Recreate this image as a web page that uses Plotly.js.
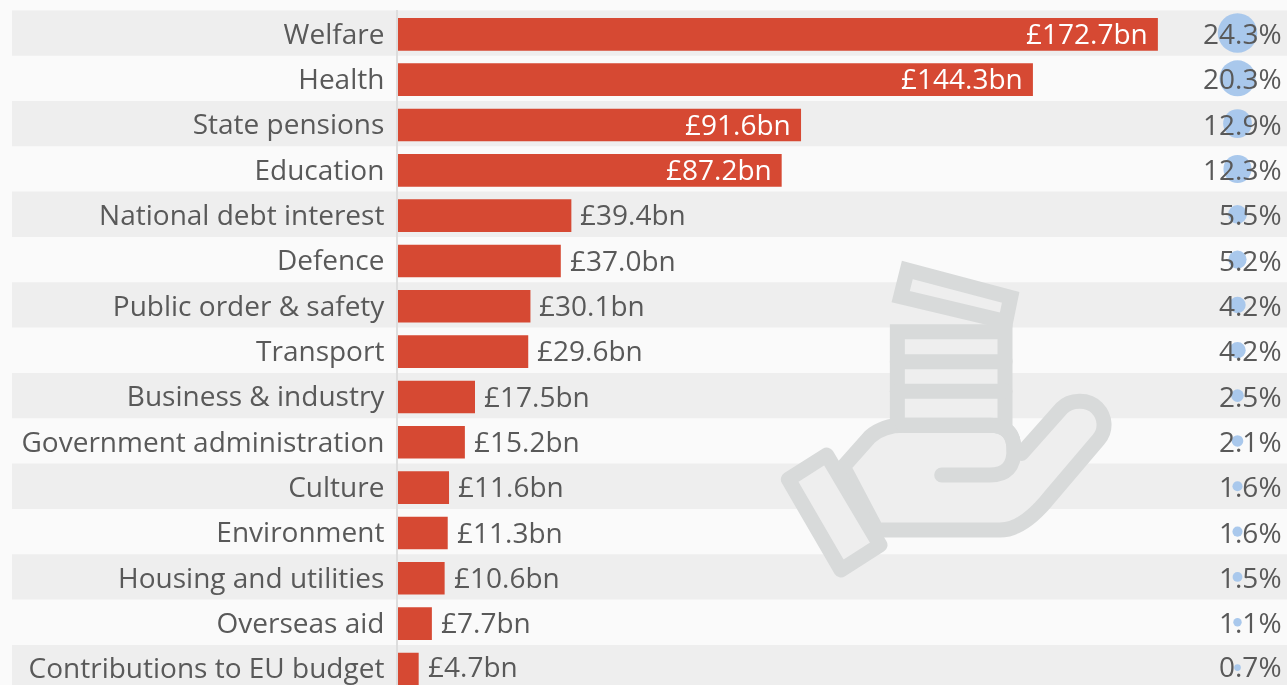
<!DOCTYPE html>
<html>
<head>
<meta charset="utf-8">
<script src="https://cdn.plot.ly/plotly-3.0.1.min.js"></script>
<style>
html,body{margin:0;padding:0;background:#fafafa;overflow:hidden}
#chart{width:1287px;height:685px;filter:blur(0.6px)}
.shapelayer path{stroke-linecap:round}
.shapelayer > g:nth-child(2) path,.shapelayer > g:nth-child(6) path,.shapelayer > g:nth-child(7) path,
.shapelayer > g:nth-child(10) path,.shapelayer > g:nth-child(14) path,.shapelayer > g:nth-child(15) path{stroke-linejoin:round}
</style>
</head>
<body>
<div id="chart"></div>
<script>
const categories = ["Welfare","Health","State pensions","Education","National debt interest","Defence","Public order & safety","Transport","Business & industry","Government administration","Culture","Environment","Housing and utilities","Overseas aid","Contributions to EU budget"];
const spending = [172.7,144.3,91.6,87.2,39.4,37.0,30.1,29.6,17.5,15.2,11.6,11.3,10.6,7.7,4.7];
const shares = [24.3,20.3,12.9,12.3,5.5,5.2,4.2,4.2,2.5,2.1,1.6,1.6,1.5,1.1,0.7];

const W = 1287, H = 685;
const PX_PER_BN = 4.4, AXIS_PX = 398, TOP_PX = 10.3, PITCH = 45.33, BUBBLE_PX = 1237.5;
const xAt = px => (px - AXIS_PX) / PX_PER_BN;
const fontFam = '"Open Sans", sans-serif';
const textCol = '#595959';
const lastRow = categories.length - 1;

const rowsShown = (H - TOP_PX) / PITCH;
const bandShapes = categories.map((c,i) => i % 2 === 0 ? ({
  type:'rect', layer:'below', xref:'paper', x0:12/W, x1:1, yref:'y', y0:i-0.5, y1:i+0.5,
  fillcolor:'#eeeeee', line:{width:0}
}) : null).filter(Boolean);

// decorative icon, drawn in page pixels
const zx = x => ((760 + x/3) / W).toFixed(5);
const zy = y => (1 - (240 + y/3) / H).toFixed(5);
const P = s => s.replace(/(-?\d+(?:\.\d+)?),(-?\d+(?:\.\d+)?)/g, (m,a,b) => zx(+a)+','+zy(+b));
const iconStroke = '#d8dada', iconFill = '#eeeeee';
const iconPath = (d, fill) => ({type:'path', layer:'below', xref:'paper', yref:'paper', path:P(d),
  fillcolor: fill ? iconFill : 'rgba(0,0,0,0)', line:{color:iconStroke, width:15}});
const iconShapes = [
  iconPath('M 442,90 L 752,172 L 737,245 L 422,170 Z', true),
  iconPath('M 250,680 L 330,590 Q 370,556 430,556 L 690,556 Q 762,556 762,630 L 785,640 L 905,505 C 930,478 985,475 1012,505 C 1036,530 1040,570 1016,598 L 870,770 Q 790,870 720,870 L 350,870 Z', true),
  iconPath('M 412,275 L 735,275 L 735,556 L 412,556 Z', true),
  iconPath('M 412,365 L 735,365', false),
  iconPath('M 412,454 L 735,454', false),
  iconPath('M 430,556 L 690,556 Q 762,556 762,630 Q 762,705 690,705 L 545,705', false),
  iconPath('M 85,718 L 200,645 L 360,915 L 243,990 Z', true)
];

const valueNotes = spending.map((v,i) => {
  const inside = v > 60;
  return {xref:'x', yref:'y', x:v, y:i, text:'£'+v.toFixed(1)+'bn', showarrow:false,
    xanchor: inside ? 'right':'left', xshift: inside ? -9 : 8, yanchor:'middle', yshift: i === lastRow ? 2 : 0,
    height:32, borderpad:0,
    font:{family:fontFam,size:28,color: inside ? '#ffffff' : textCol}};
});
const shareNotes = shares.map((v,i) => ({xref:'paper', yref:'y', x:1283/W, y:i, text:v.toFixed(1)+'%',
  showarrow:false, xanchor:'right', yanchor:'middle', yshift: i === lastRow ? 2 : 0,
  height:32, borderpad:0, font:{family:fontFam,size:28,color:textCol}}));

const traces = [
 {type:'bar', orientation:'h', y:categories.map((c,i)=>i), x:spending, width:0.72, offset:-0.33, marker:{color:'#d64933'}, hoverinfo:'skip'},
 {type:'scatter', mode:'markers', y:categories.map((c,i)=>i), x:shares.map(()=>xAt(BUBBLE_PX)),
  marker:{size:shares, sizemode:'area', sizeref:1/32, opacity:1, color:'#a9c8ec', line:{width:0}}, hoverinfo:'skip'}
];
const layout = {
 width:W, height:H, margin:{l:0,r:0,t:0,b:0}, showlegend:false,
 paper_bgcolor:'#fafafa', plot_bgcolor:'rgba(0,0,0,0)',
 xaxis:{range:[xAt(0),xAt(W)], showgrid:false, zeroline:false, showticklabels:false, ticks:''},
 yaxis:{domain:[0,1-TOP_PX/H], range:[rowsShown-0.5,-0.5], anchor:'free', position:397/W,
   tickmode:'array', tickvals:categories.map((c,i)=>i+0.02), ticktext:categories,
   ticklabeloverflow:'allow',
   ticks:'outside', ticklen:6, tickcolor:'rgba(0,0,0,0)', showgrid:false, zeroline:false,
   showline:true, linecolor:'#dddddd', linewidth:2,
   tickfont:{family:fontFam,size:28,color:textCol}},
 shapes:bandShapes.concat(iconShapes),
 annotations:valueNotes.concat(shareNotes)
};
Plotly.newPlot('chart', traces, layout, {displayModeBar:false, staticPlot:true});
</script>
</body>
</html>
